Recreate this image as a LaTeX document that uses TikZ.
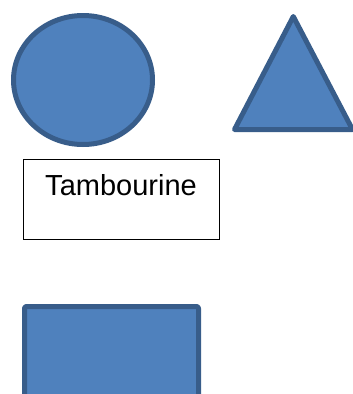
\documentclass[tikz,border=0pt]{standalone}
\usepackage{fontspec}
\setmainfont{Liberation Sans}
\definecolor{shapefill}{HTML}{4F81BD}
\definecolor{shapeline}{HTML}{385D8A}
\tikzset{blueshape/.style={fill=shapefill, draw=shapeline, line width=5pt, line join=round}}
\begin{document}
\begin{tikzpicture}[x=1pt,y=-1pt]
	\useasboundingbox (0,0) rectangle (353,394);
	
	\draw[blueshape] (83,80) ellipse [x radius=69.5, y radius=64.5];
	\draw[blueshape] (293.3,16.5) -- (352.5,129.5) -- (234.5,129.5) -- cycle;
	\node[draw=black, line width=1pt, minimum width=196pt, minimum height=80pt,
	anchor=north west, inner sep=0pt] (box) at (23,158.5) {};
	\node[anchor=base, inner sep=0pt, font=\fontsize{29pt}{34pt}\selectfont]
	(label) at (121,195) {Tambourine};
	\draw[blueshape, rounded corners=2pt] (24.5,306.5) rectangle (198.5,410);
\end{tikzpicture}
\end{document}
